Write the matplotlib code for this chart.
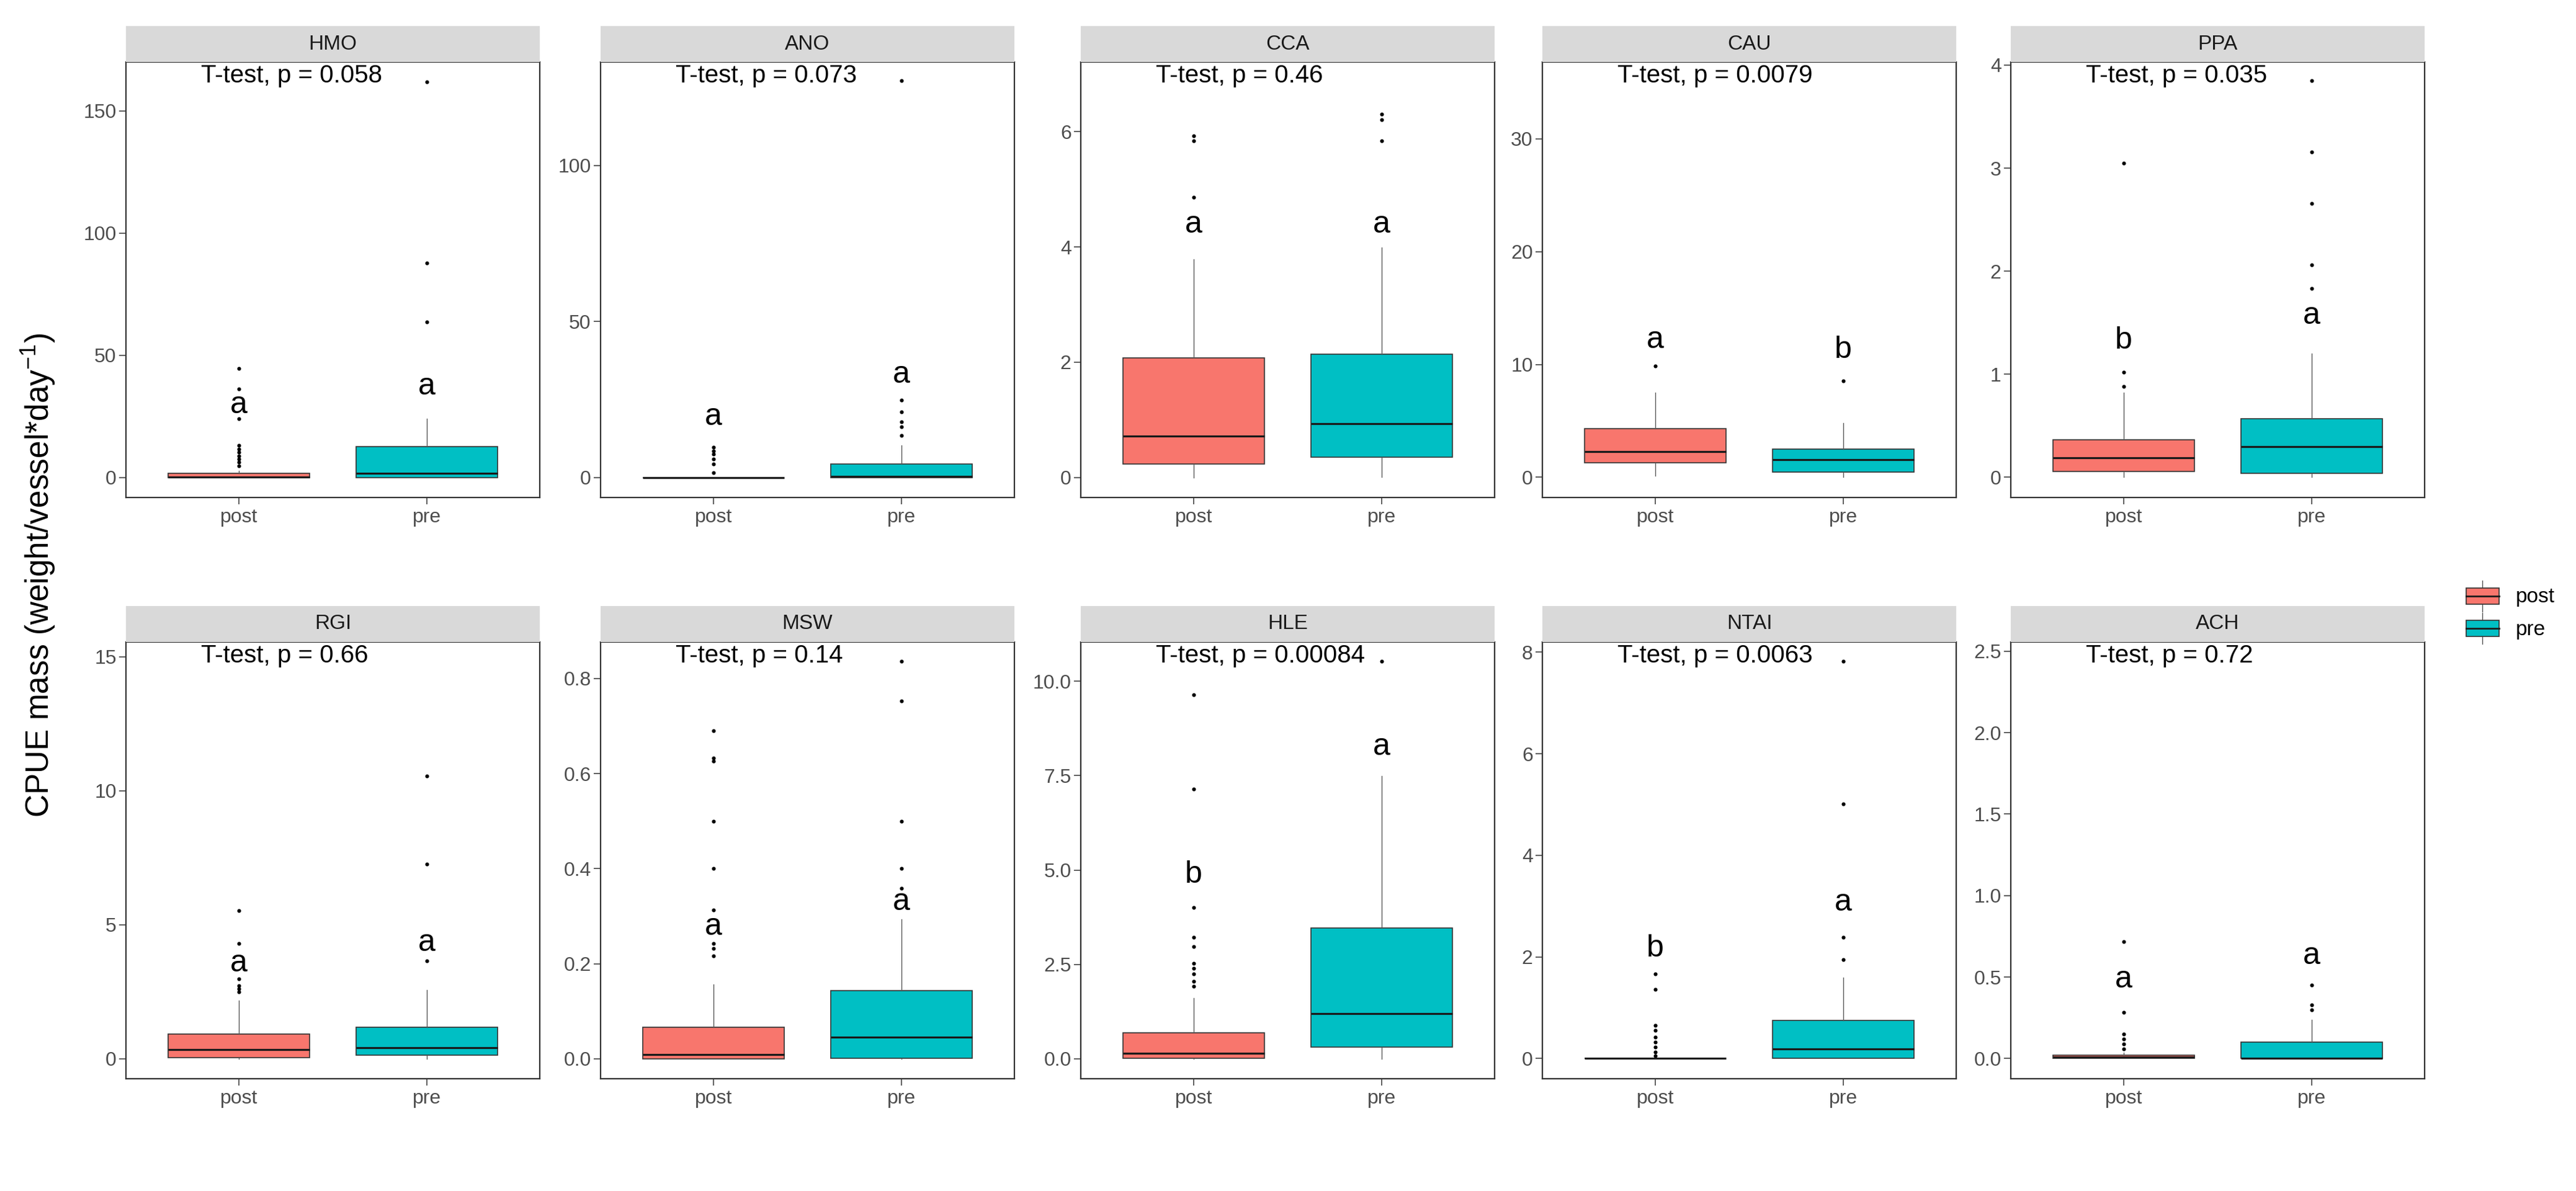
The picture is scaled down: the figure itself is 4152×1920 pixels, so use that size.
import numpy as np
import matplotlib.pyplot as plt
from matplotlib.patches import Rectangle, Patch
from matplotlib.lines import Line2D
from matplotlib.legend_handler import HandlerBase

plt.rcParams['font.family'] = ['Liberation Sans', 'DejaVu Sans']
plt.rcParams['mathtext.fontset'] = 'custom'
plt.rcParams['mathtext.rm'] = 'Liberation Sans'
plt.rcParams['mathtext.it'] = 'Liberation Sans:italic'

# ================== DATA ==================
species = ["HMO", "ANO", "CCA", "CAU", "PPA", "RGI", "MSW", "HLE", "NTAI", "ACH"]
groups = ["post", "pre"]
p_values = ["0.058", "0.073", "0.46", "0.0079", "0.035",
            "0.66", "0.14", "0.00084", "0.0063", "0.72"]

letters_post = ["a", "a", "a", "a", "b", "a", "a", "b", "b", "a"]
letters_pre = ["a", "a", "a", "b", "a", "a", "a", "a", "a", "a"]
letter_y_post = [29.6, 19.4, 4.39, 12.2, 1.33, 3.55, 0.278, 4.88, 2.16, 0.484]
letter_y_pre = [37.2, 32.9, 4.39, 11.3, 1.57, 4.33, 0.33, 8.26, 3.07, 0.63]

# box statistics, post group
post_whislo = [0, 0, 0, 0.15, 0, 0, 0, 0, 0, 0]
post_q1 = [0, 0, 0.23, 1.28, 0.056, 0.03, 0.0, 0.02, 0, 0]
post_med = [0.3, 0, 0.72, 2.29, 0.19, 0.33, 0.009, 0.14, 0, 0.008]
post_q3 = [1.65, 0, 2.07, 4.29, 0.366, 0.92, 0.066, 0.69, 0, 0.02]
post_whishi = [2.75, 0, 3.78, 7.5, 0.82, 2.17, 0.156, 1.60, 0, 0.037]
post_fliers = [
    [44.7, 36.2, 24.1, 13.1, 11.7, 10.3, 8.9, 7.6, 6.2, 4.8],
    [9.7, 8.6, 7.5, 5.9, 4.3, 1.6],
    [4.86, 5.84, 5.93],
    [9.88],
    [0.88, 1.02, 3.05],
    [2.48, 2.61, 2.73, 2.98, 4.30, 5.52],
    [0.216, 0.232, 0.243, 0.313, 0.40, 0.50, 0.627, 0.633, 0.69],
    [1.92, 2.05, 2.25, 2.39, 2.52, 2.97, 3.21, 4.01, 7.15, 9.64],
    [0.05, 0.12, 0.22, 0.32, 0.42, 0.55, 0.65, 1.36, 1.67],
    [0.058, 0.089, 0.12, 0.15, 0.284, 0.717],
]

# box statistics, pre group
pre_whislo = [0, 0, 0.01, 0, 0, 0, 0, 0, 0, 0]
pre_q1 = [0, 0, 0.35, 0.48, 0.04, 0.14, 0.001, 0.30, 0, 0]
pre_med = [1.65, 0.3, 0.93, 1.58, 0.30, 0.41, 0.046, 1.20, 0.185, 0.0]
pre_q3 = [12.7, 4.3, 2.14, 2.5, 0.57, 1.17, 0.144, 3.46, 0.75, 0.099]
pre_whishi = [24.1, 10.2, 3.99, 4.82, 1.20, 2.55, 0.294, 7.49, 1.59, 0.239]
pre_fliers = [
    [63.6, 87.7, 162.0],
    [13.5, 16.2, 17.8, 21.0, 24.8, 127.2],
    [5.84, 6.21, 6.30],
    [8.54],
    [1.835, 2.06, 2.66, 3.16, 3.85],
    [3.64, 7.25, 10.54],
    [0.359, 0.40, 0.50, 0.753, 0.837],
    [10.53],
    [1.95, 2.38, 5.01, 7.82],
    [0.30, 0.33, 0.449],
]

y_ticks = [
    [0, 50, 100, 150], [0, 50, 100], [0, 2, 4, 6], [0, 10, 20, 30], [0, 1, 2, 3, 4],
    [0, 5, 10, 15], [0, 0.2, 0.4, 0.6, 0.8], [0, 2.5, 5, 7.5, 10], [0, 2, 4, 6, 8],
    [0, 0.5, 1, 1.5, 2, 2.5],
]
y_decimals = [0, 0, 0, 0, 0, 0, 1, 1, 0, 1]
y_limits = [(-8.2, 170.0), (-6.4, 133.1), (-0.35, 7.21), (-1.79, 36.8), (-0.196, 4.03),
            (-0.75, 15.55), (-0.042, 0.877), (-0.53, 11.04), (-0.40, 8.20), (-0.124, 2.556)]

fills = ["#F8766D", "#00BFC4"]

# ================== LAYOUT (pixels) ==================
W, H = 4152, 1920
col_left = [203, 968, 1742, 2486, 3241]
panel_w = 667
row_top = [100, 1035]
panel_h = [702, 704]
strip_h = 58
x_lo, x_hi = 0.4, 2.6
label_x = 0.80   # left edge of the T-test label, in data units

fig = plt.figure(figsize=(W / 100, H / 100), dpi=100)


class BoxHandler(HandlerBase):
    # ggplot-like boxplot legend key
    def create_artists(self, legend, orig_handle, xdescent, ydescent,
                       width, height, fontsize, trans):
        x0, y0 = -xdescent, -ydescent
        cx = x0 + width / 2
        bw = width * 0.8
        bh = height * 0.52
        by = y0 + (height - bh) / 2
        w1 = Line2D([cx, cx], [y0, by], color='#4d4d4d', lw=1.0, transform=trans)
        w2 = Line2D([cx, cx], [by + bh, y0 + height], color='#4d4d4d', lw=1.0, transform=trans)
        rect = Rectangle((cx - bw / 2, by), bw, bh, facecolor=orig_handle.get_facecolor(),
                         edgecolor='#333333', lw=1.2, transform=trans)
        med = Line2D([cx - bw / 2, cx + bw / 2], [by + bh / 2] * 2, color='#1a1a1a',
                     lw=2.0, transform=trans)
        return [w1, w2, rect, med]


for i, sp in enumerate(species):
    r, c = divmod(i, 5)
    left = col_left[c] / W
    bottom = 1 - (row_top[r] + panel_h[r]) / H
    ax = fig.add_axes([left, bottom, panel_w / W, panel_h[r] / H])

    stats = [
        dict(whislo=post_whislo[i], q1=post_q1[i], med=post_med[i], q3=post_q3[i],
             whishi=post_whishi[i], fliers=post_fliers[i]),
        dict(whislo=pre_whislo[i], q1=pre_q1[i], med=pre_med[i], q3=pre_q3[i],
             whishi=pre_whishi[i], fliers=pre_fliers[i]),
    ]
    bp = ax.bxp(stats, positions=[1, 2], widths=0.75, patch_artist=True, showcaps=False,
                boxprops=dict(edgecolor='#333333', linewidth=1.2),
                medianprops=dict(color='#1a1a1a', linewidth=2.3),
                whiskerprops=dict(color='#555555', linewidth=1.0),
                flierprops=dict(marker='o', markersize=3.4, markerfacecolor='black',
                                markeredgecolor='black', linestyle='none'))
    for patch, col in zip(bp['boxes'], fills):
        patch.set_facecolor(col)

    ax.set_xlim(x_lo, x_hi)
    ax.set_ylim(*y_limits[i])
    ax.set_xticks([1, 2])
    ax.set_xticklabels(groups)
    ax.set_yticks(y_ticks[i])
    ax.set_yticklabels([f"{t:.{y_decimals[i]}f}" for t in y_ticks[i]])
    ax.tick_params(axis='both', labelsize=23, colors='#333333', labelcolor='#4D4D4D',
                   length=8, width=1.1)
    ax.tick_params(axis='y', pad=3)
    ax.tick_params(axis='x', pad=4)
    for s in ax.spines.values():
        s.set_color('#333333')
        s.set_linewidth(1.6)

    # significance letters
    ax.text(1, letter_y_post[i], letters_post[i], ha='center', va='center', fontsize=36)
    ax.text(2, letter_y_pre[i], letters_pre[i], ha='center', va='center', fontsize=36)

    # test label
    ax.text((label_x - x_lo) / (x_hi - x_lo), 1 - 33 / panel_h[r],
            f"T-test, p = {p_values[i]}", transform=ax.transAxes,
            ha='left', va='baseline', fontsize=29)

    # strip
    sax = fig.add_axes([left, 1 - row_top[r] / H, panel_w / W, strip_h / H])
    sax.set_facecolor('#D9D9D9')
    sax.set_xticks([])
    sax.set_yticks([])
    for s in sax.spines.values():
        s.set_visible(False)
    sax.text(0.5, 0.5, sp, ha='center', va='center', fontsize=24, color='#1A1A1A',
             transform=sax.transAxes)

fig.text(62 / W, 0.517, "CPUE mass (weight/vessel*day$^{-1}$)", rotation=90,
         ha='center', va='center', fontsize=37)

handles = [Patch(facecolor=fills[0]), Patch(facecolor=fills[1])]
fig.legend(handles, groups, handler_map={Patch: BoxHandler()},
           loc='center left', bbox_to_anchor=(3968 / W, 0.486), frameon=False,
           fontsize=24, handlelength=2.0, handleheight=1.95, labelspacing=0.05,
           handletextpad=0.6, borderpad=0, borderaxespad=0)

fig.savefig("out.png", dpi=100)
